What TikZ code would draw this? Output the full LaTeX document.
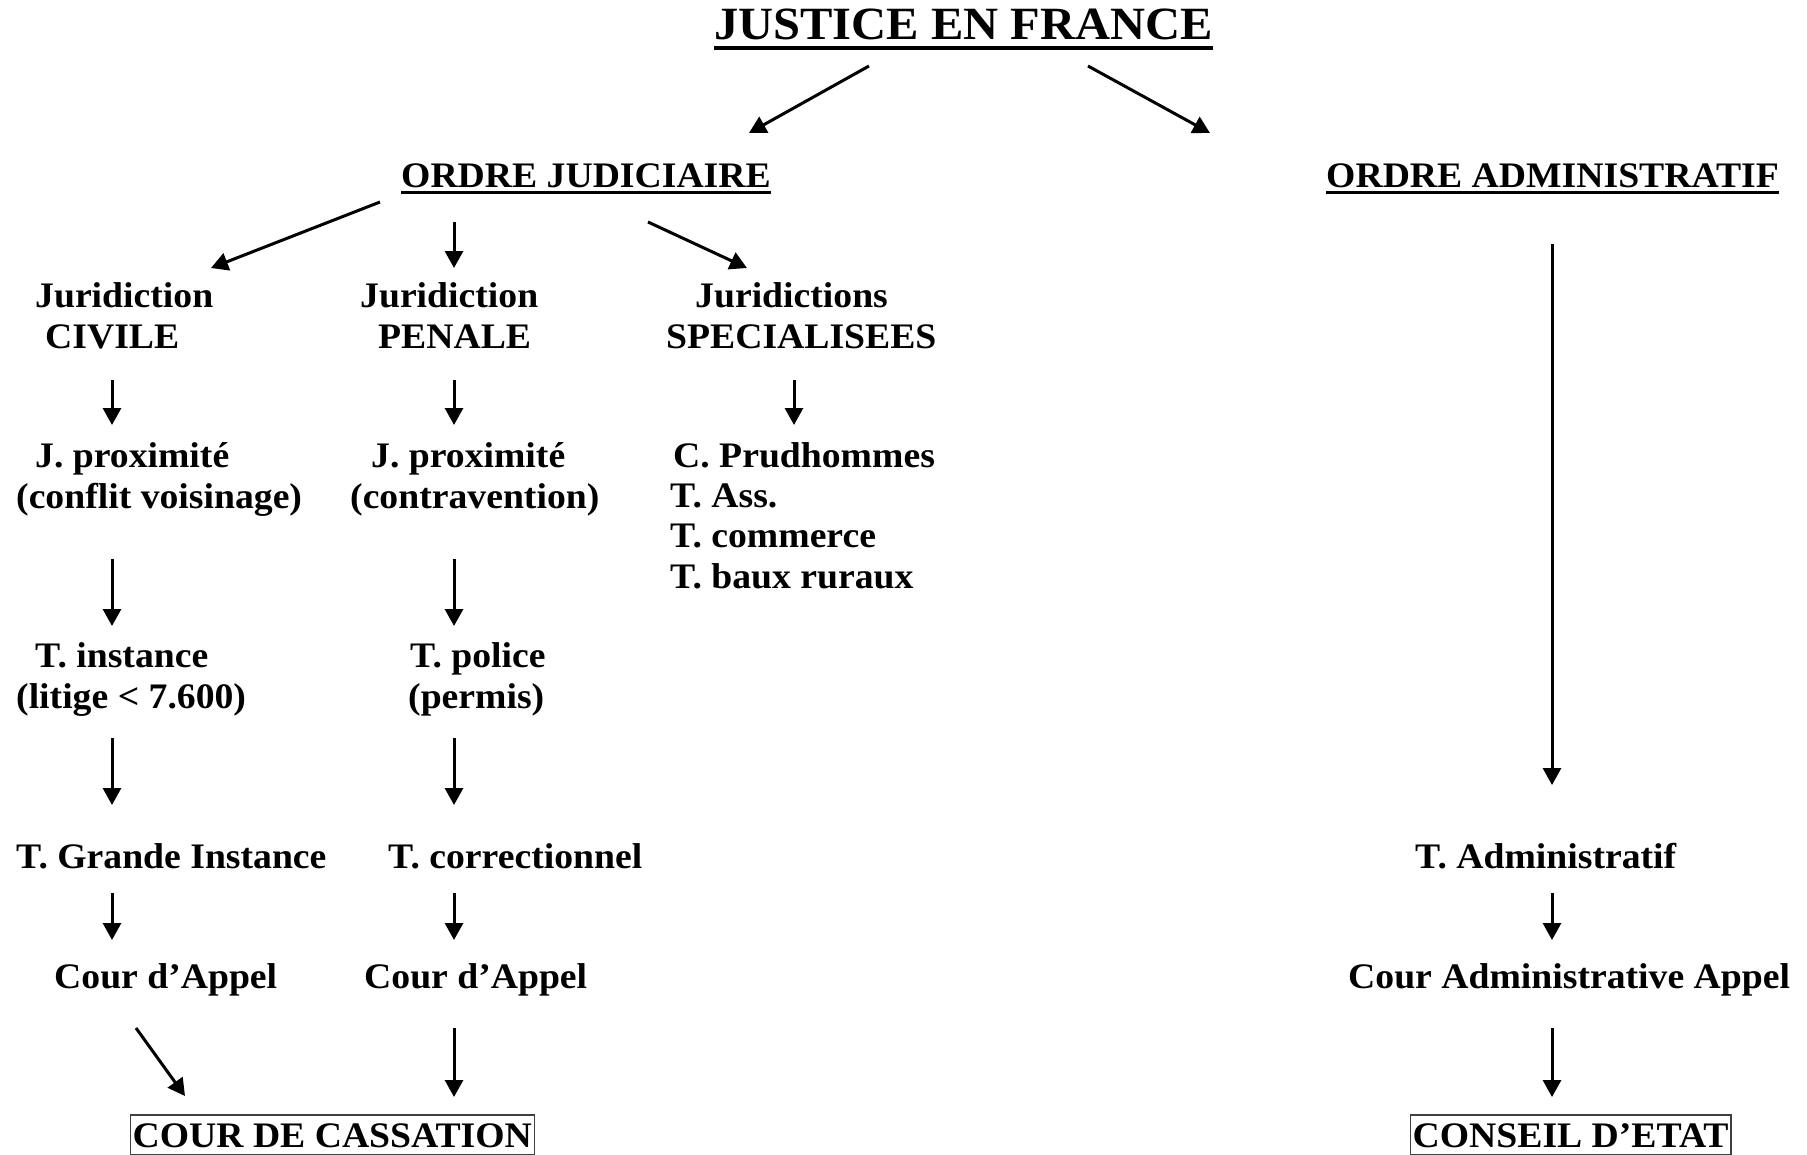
\documentclass[tikz,border=0pt]{standalone}
\usepackage{fontspec}
\setmainfont{Liberation Serif}[FakeStretch=1.05]
\usetikzlibrary{arrows.meta}
\begin{document}
\begin{tikzpicture}[x=1pt,y=-1pt,
  txt/.style={font=\bfseries\fontsize{35.9}{40.3}\selectfont, inner sep=0pt, anchor=base west, align=left},
  ttl/.style={font=\bfseries\fontsize{46.2}{50}\selectfont, inner sep=0pt, anchor=base west},
  boxed/.style={font=\bfseries\fontsize{35.9}{40}\selectfont, draw=black!75, line width=1.3pt,
    inner xsep=2.5pt, inner ysep=4pt, text height=28pt, text depth=3.5pt, anchor=base west},
  arr/.style={-{Triangle[length=17pt,width=18pt]}, line width=3pt},
  ulbig/.style={line width=3.3pt},
  ulsmall/.style={line width=3pt}]
\fill[white] (0,0) rectangle (1807,1154);
\useasboundingbox (0,0) rectangle (1807,1154);

% title and headers
\node[ttl] (title) at (714,39) {JUSTICE EN FRANCE};
\draw[ulbig] ([yshift=-9pt]title.base west) -- ([yshift=-9pt]title.base east);
\node[txt] (jud) at (401,187) {ORDRE JUDICIAIRE};
\draw[ulsmall] ([yshift=-5pt]jud.base west) -- ([yshift=-5pt]jud.base east);
\node[txt] (adm) at (1326,187) {ORDRE ADMINISTRATIF};
\draw[ulsmall] ([yshift=-5pt]adm.base west) -- ([yshift=-5pt]adm.base east);

% judicial order (anchor = baseline of the last line)
\node[txt] (civ) at (35,348) {Juridiction\\\hspace*{10pt}CIVILE};
\node[txt] (pen) at (360,348) {Juridiction\\\hspace*{18pt}PENALE};
\node[txt] (spe) at (666,348) {\hspace*{29pt}Juridictions\\SPECIALISEES};

\node[txt] (cjp) at (16,508) {\hspace*{19pt}J. proximité\\(conflit voisinage)};
\node[txt] (pjp) at (350,508) {\hspace*{21pt}J. proximité\\(contravention)};
\node[txt] (lst) at (670,588) {\hspace*{3pt}C. Prudhommes\\T. Ass.\\T. commerce\\T. baux ruraux};

\node[txt] (cti) at (16,708) {\hspace*{19pt}T. instance\\(litige < 7.600)};
\node[txt] (ppo) at (408,708) {\hspace*{2pt}T. police\\(permis)};

\node[txt] (cgi) at (16,868) {T. Grande Instance};
\node[txt] (pco) at (388,868) {T. correctionnel};

\node[txt] (cca) at (54,988) {Cour d’Appel};
\node[txt] (pca) at (364,988) {Cour d’Appel};

\node[boxed] (cc) at (129.5,1147) {COUR DE CASSATION};

% administrative order
\node[txt] (tad) at (1415,868) {T. Administratif};
\node[txt] (caa) at (1348,988) {Cour Administrative Appel};
\node[boxed] (ce) at (1409.5,1147) {CONSEIL D’ETAT};

% connector ends
\coordinate (title-l) at (869,66);   \coordinate (jud-in) at (749,133);
\coordinate (title-r) at (1088,66);  \coordinate (adm-in) at (1210,133);
\coordinate (jud-c) at (380,202);    \coordinate (civ-in) at (211,268);
\coordinate (jud-p) at (454,222);    \coordinate (pen-in) at (454,268);
\coordinate (jud-s) at (648,222);    \coordinate (spe-in) at (747,268);
\coordinate (civ-out) at (112,380);  \coordinate (cjp-in) at (112,425);
\coordinate (pen-out) at (454,380);  \coordinate (pjp-in) at (454,425);
\coordinate (spe-out) at (794,380);  \coordinate (lst-in) at (794,425);
\coordinate (cjp-out) at (112,559);  \coordinate (cti-in) at (112,626);
\coordinate (pjp-out) at (454,559);  \coordinate (ppo-in) at (454,626);
\coordinate (cti-out) at (112,738);  \coordinate (cgi-in) at (112,805);
\coordinate (ppo-out) at (454,738);  \coordinate (pco-in) at (454,805);
\coordinate (cgi-out) at (112,893);  \coordinate (cca-in) at (112,940);
\coordinate (pco-out) at (454,893);  \coordinate (pca-in) at (454,940);
\coordinate (cca-out) at (136,1028); \coordinate (cc-in1) at (185,1096);
\coordinate (pca-out) at (454,1028); \coordinate (cc-in2) at (454,1097);
\coordinate (adm-out) at (1552,244); \coordinate (tad-in) at (1552,785);
\coordinate (tad-out) at (1552,893); \coordinate (caa-in) at (1552,940);
\coordinate (caa-out) at (1552,1028); \coordinate (ce-in) at (1552,1097);

% connectors
\draw[arr] (title-l) -- (jud-in);
\draw[arr] (title-r) -- (adm-in);
\draw[arr] (jud-c) -- (civ-in);
\draw[arr] (jud-p) -- (pen-in);
\draw[arr] (jud-s) -- (spe-in);
\draw[arr] (civ-out) -- (cjp-in);
\draw[arr] (pen-out) -- (pjp-in);
\draw[arr] (spe-out) -- (lst-in);
\draw[arr] (cjp-out) -- (cti-in);
\draw[arr] (pjp-out) -- (ppo-in);
\draw[arr] (cti-out) -- (cgi-in);
\draw[arr] (ppo-out) -- (pco-in);
\draw[arr] (cgi-out) -- (cca-in);
\draw[arr] (pco-out) -- (pca-in);
\draw[arr] (cca-out) -- (cc-in1);
\draw[arr] (pca-out) -- (cc-in2);
\draw[arr] (adm-out) -- (tad-in);
\draw[arr] (tad-out) -- (caa-in);
\draw[arr] (caa-out) -- (ce-in);
\end{tikzpicture}
\end{document}
